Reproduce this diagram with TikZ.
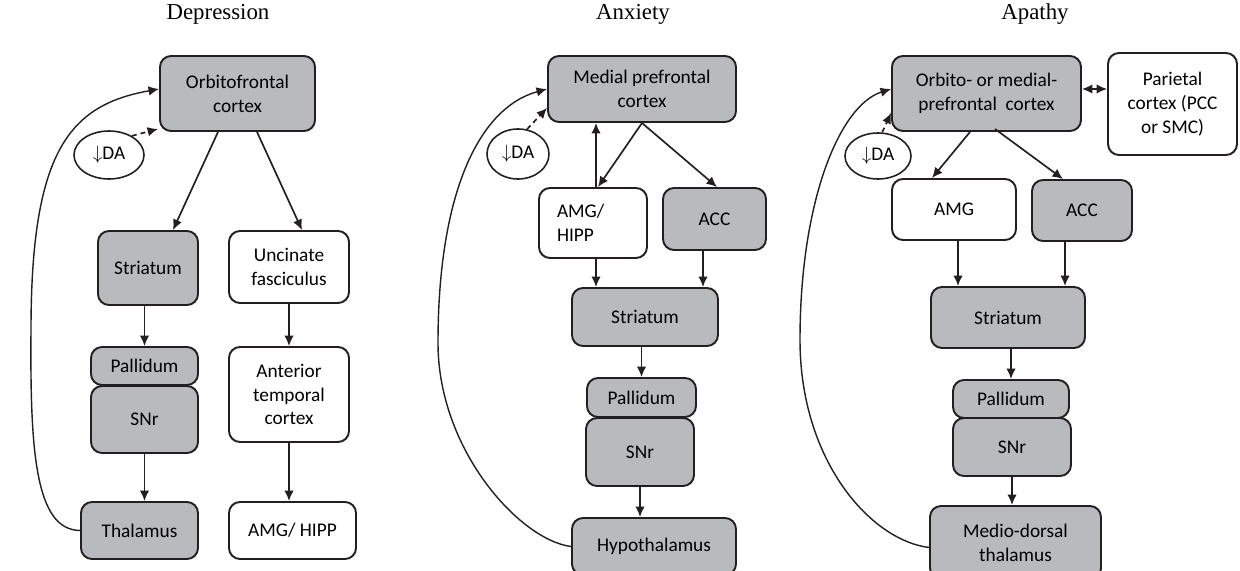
\documentclass[tikz,border=0pt]{standalone}
\usepackage{fontspec}
\setmainfont{Carlito}
\newfontfamily\titlefont{Liberation Serif}
\usetikzlibrary{shapes.geometric,arrows.meta}
\definecolor{boxgray}{RGB}{185,186,190}
\definecolor{ink}{RGB}{35,31,32}
\tikzset{
  panelbox/.style={draw=ink, line width=1.1pt, rounded corners=2.2mm, align=center, inner sep=1pt,
    font=\fontsize{11}{13.6}\selectfont},
  graybox/.style={panelbox, fill=boxgray},
  whitebox/.style={panelbox, fill=white},
  dabubble/.style={ellipse, draw=ink, line width=0.9pt, inner sep=0pt, font=\fontsize{11}{13.6}\selectfont},
  arr/.style={draw=ink, line width=0.95pt, -{Latex[length=2.1mm,width=1.9mm]}},
  dblarr/.style={arr, {Latex[length=2.1mm,width=1.9mm]}-{Latex[length=2.1mm,width=1.9mm]}},
  dasharr/.style={arr, dash pattern=on 1mm off 0.8mm},
  feedback/.style={draw=ink, line width=0.8pt, -{Latex[length=2.1mm,width=1.9mm]}},
  headline/.style={font=\titlefont\fontsize{13}{15}\selectfont}
}

\begin{document}
\begin{tikzpicture}[x=0.2mm, y=-0.2mm]
   \useasboundingbox (0,0) rectangle (1240,571);
   \clip (0,0) rectangle (1240,571);
   \foreach \x/\t in {218/Depression,633/Anxiety,1035/Apathy} {\node[headline] (t\t) at (\x,14) {\t}; }

   % depression
   \node[graybox, minimum width=31mm, minimum height=15mm] (dofc) at (237.5,93.5) {Orbitofrontal\\cortex};
   \node[dabubble, minimum width=14mm, minimum height=9.6mm] (dda) at (109,155) {$\downarrow$DA};
   \node[graybox, minimum width=20mm, minimum height=14.8mm] (dstr) at (148,268) {Striatum};
   \node[whitebox, minimum width=24mm, minimum height=14.4mm] (dunc) at (289,267) {Uncinate\\fasciculus};
   \node[graybox, minimum width=21.4mm, minimum height=7.6mm] (dpal) at (144.5,366) {Pallidum};
   \node[graybox, minimum width=21.4mm, minimum height=13.4mm] (dsnr) at (144.5,419.5) {SNr};
   \node[graybox, minimum width=23.4mm, minimum height=11.4mm] (dthal) at (139.5,530.5) {Thalamus};
   \node[whitebox, minimum width=24mm, minimum height=19mm] (dant) at (289,394.5) {Anterior\\temporal\\cortex};
   \node[whitebox, minimum width=25.4mm, minimum height=11.4mm] (damg) at (292.5,530.5) {AMG/ HIPP};
   \coordinate (dturn) at (31,330);

   \draw[arr] ([xshift=-3.9mm]dofc.south) -- ([xshift=5mm]dstr.north);
   \draw[arr] ([xshift=3.9mm]dofc.south) -- ([xshift=2.6mm]dunc.north);
   \draw[arr] (dpal.north |- dstr.south) -- (dpal.north);
   \draw[arr] (dsnr.south) -- (dsnr.south |- dthal.north);
   \draw[arr] (dunc.south) -- (dant.north);
   \draw[arr] (dant.south) -- (dant.south |- damg.north);
   \draw[dasharr] (dda.40) -- ([shift={(-0.2mm,0.6mm)}]dofc.south west);
   \draw[feedback] (dthal.west) .. controls (35,530) and (30,450) .. (dturn)
      .. controls (31,150) and (70,105) .. ([yshift=0.9mm]dofc.west);

   % anxiety
   \node[graybox, minimum width=37.6mm, minimum height=13.2mm] (amp) at (642,89) {Medial prefrontal\\cortex};
   \node[dabubble, minimum width=12.4mm, minimum height=10mm] (ada) at (518,154) {$\downarrow$DA};
   \node[whitebox, minimum width=21.6mm, minimum height=14mm, text width=14.4mm, align=left] (aamg) at (593,223) {AMG/\\HIPP};
   \node[graybox, minimum width=20.6mm, minimum height=12.4mm] (aacc) at (714.5,219) {ACC};
   \node[graybox, minimum width=29.2mm, minimum height=11.6mm] (astr) at (645,317) {Striatum};
   \node[graybox, minimum width=21.8mm, minimum height=7.8mm] (apal) at (641.5,397.5) {Pallidum};
   \node[graybox, minimum width=21.6mm, minimum height=13.6mm] (asnr) at (640,452) {SNr};
   \node[graybox, minimum width=32.8mm, minimum height=11.4mm] (ahyp) at (654,546.5) {Hypothalamus};
   \coordinate (aturn) at (438,343);

   \draw[arr] ([xshift=0.6mm]aamg.north) -- ([xshift=0.6mm]aamg.north |- amp.south);
   \draw[arr] (amp.south) -- ([xshift=1mm]aamg.north);
   \draw[arr] (amp.south) -- ([xshift=0.5mm]aacc.north);
   \draw[arr] ([xshift=0.6mm]aamg.south) -- ([xshift=0.6mm]aamg.south |- astr.north);
   \draw[arr] ([xshift=-2.3mm]aacc.south) -- ([xshift=-2.3mm]aacc.south |- astr.north);
   \draw[arr] (apal.north |- astr.south) -- (apal.north);
   \draw[arr] (asnr.south) -- (asnr.south |- ahyp.north);
   \draw[dasharr] (ada.70) -- ([yshift=3mm]amp.south west);
   \draw[feedback] (ahyp.west) .. controls (520,540) and (438,450) .. (aturn)
      .. controls (438,195) and (478,108) .. (amp.west);

   % apathy
   \node[graybox, minimum width=37.8mm, minimum height=15mm] (pofc) at (986.5,93.5) {Orbito- or medial-\\prefrontal~ cortex};
   \node[whitebox, minimum width=25.8mm, minimum height=20.4mm] (ppar) at (1172.5,104) {Parietal\\cortex (PCC\\or SMC)};
   \node[dabubble, minimum width=13.2mm, minimum height=9.2mm] (pda) at (878,156) {$\downarrow$DA};
   \node[whitebox, minimum width=24.8mm, minimum height=12.2mm] (pamg) at (954,209.5) {AMG};
   \node[graybox, minimum width=20mm, minimum height=12.2mm] (pacc) at (1082,210.5) {ACC};
   \node[graybox, minimum width=30.8mm, minimum height=12.2mm] (pstr) at (1008,317.5) {Striatum};
   \node[graybox, minimum width=23.2mm, minimum height=7.6mm] (ppal) at (1011,399) {Pallidum};
   \node[graybox, minimum width=23.6mm, minimum height=11.6mm] (psnr) at (1012,447) {SNr};
   \node[graybox, minimum width=34.2mm, minimum height=14.6mm] (pmd) at (1015.5,542.5) {Medio-dorsal\\thalamus};
   \coordinate (pturn) at (800,340);

   \draw[dblarr] ([yshift=0.9mm]pofc.east) -- ([yshift=0.9mm]pofc.east -| ppar.west);
   \draw[arr] ([xshift=-3.3mm]pofc.south) -- ([xshift=-4.4mm]pamg.north);
   \draw[arr] ([shift={(1.7mm,0.6mm)}]pofc.south) -- ([xshift=-3.8mm]pacc.north);
   \draw[arr] ([xshift=0.8mm]pamg.south) -- ([xshift=0.8mm]pamg.south |- pstr.north);
   \draw[arr] ([xshift=-3.4mm]pacc.south) -- ([xshift=-3.4mm]pacc.south |- pstr.north);
   \draw[arr] (ppal.north |- pstr.south) -- (ppal.north);
   \draw[arr] (psnr.south) -- (psnr.south |- pmd.north);
   \draw[dasharr] (pda.80) -- ([yshift=3.8mm]pofc.south west);
   \draw[feedback] ([yshift=-1mm]pmd.west) .. controls (870,540) and (800,460) .. (pturn)
      .. controls (800,200) and (840,105) .. ([yshift=0.9mm]pofc.west);
\end{tikzpicture}
\end{document}
